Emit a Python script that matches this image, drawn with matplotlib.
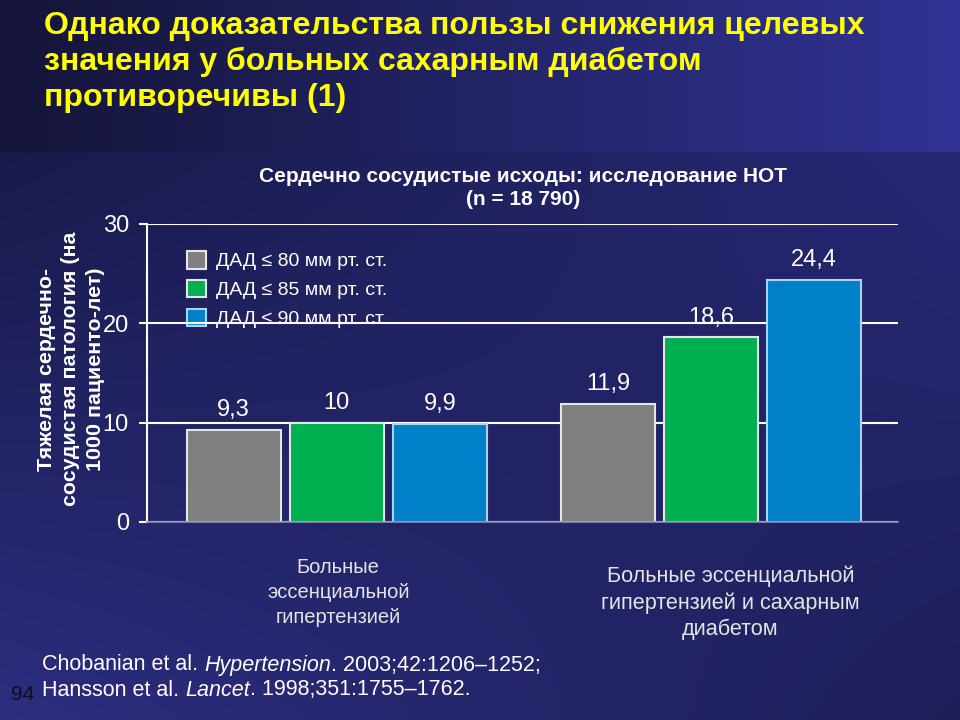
import numpy as np
import matplotlib
matplotlib.use("Agg")
import matplotlib.pyplot as plt
from matplotlib.patches import Patch

# data
groups = ["Больные\nэссенциальной\nгипертензией",
          "Больные эссенциальной\nгипертензией и сахарным\nдиабетом"]
series = ["ДАД ≤ 80 мм рт. ст.", "ДАД ≤ 85 мм рт. ст.", "ДАД ≤ 90 мм рт. ст."]
values_80 = [9.3, 11.9]
values_85 = [10, 18.6]
values_90 = [9.9, 24.4]
value_labels = [["9,3", "11,9"], ["10", "18,6"], ["9,9", "24,4"]]
yticks = [0, 10, 20, 30]

colors = ["#7f7f7f", "#00b050", "#0080c8"]
edges = ["#e6e6e6", "#e6e6e6", "#a8d4f2"]

plt.rcParams["font.family"] = ["Liberation Sans", "DejaVu Sans"]

W, H = 960, 720
fig = plt.figure(figsize=(W / 100, H / 100), dpi=100)


def px(x, y):
    return x / W, 1 - y / H


# background gradients
bg = fig.add_axes([0, 0, 1, 1], zorder=-10)
bg.set_axis_off()
img = np.zeros((H, W, 3))
xs = np.linspace(0, 1, W)
top_l = np.array([0.08, 0.08, 0.22])
top_r = np.array([0.19, 0.20, 0.58])
img[:152] = top_l + (top_r - top_l) * xs[None, :, None]
c_tl = np.array([0.10, 0.10, 0.29])
c_tr = np.array([0.15, 0.16, 0.46])
c_bl = np.array([0.17, 0.18, 0.50])
c_br = np.array([0.12, 0.12, 0.35])
yy = np.linspace(0, 1, H - 152)[:, None, None]
xx = xs[None, :, None]
img[152:] = (c_tl * (1 - xx) * (1 - yy) + c_tr * xx * (1 - yy)
             + c_bl * (1 - xx) * yy + c_br * xx * yy)
bg.imshow(img, aspect="auto", extent=[0, 1, 0, 1])

# title
fig.text(*px(44, 62), "Однако доказательства пользы снижения целевых\n"
         "значения у больных сахарным диабетом\nпротиворечивы (1)",
         color="#ffff00", fontsize=23, fontweight="bold",
         ha="left", va="center", linespacing=1.24)

fig.text(*px(523, 188), "Сердечно сосудистые исходы: исследование НОТ\n(n = 18 790)",
         color="white", fontsize=15, fontweight="bold",
         ha="center", va="center", linespacing=1.3)

ax = fig.add_axes([147 / W, 1 - 522 / H, (898 - 147) / W, (522 - 224) / H])
ax.set_facecolor("none")

x = np.array([0.0, 1.0])
step = 0.2754
width = 0.251
all_vals = [values_80, values_85, values_90]
handles = []
for i, vals in enumerate(all_vals):
    pos = x + (i - 1) * step
    ax.bar(pos, vals, width=width, color=colors[i], edgecolor=edges[i],
           linewidth=1.5, zorder=2)
    for p, v, lab in zip(pos, vals, value_labels[i]):
        ax.annotate(lab, (p, v), xytext=(0, 6), textcoords="offset points",
                    ha="center", va="bottom", color="white", fontsize=17, zorder=4)
    handles.append(Patch(facecolor=colors[i], edgecolor=edges[i], linewidth=1.5,
                         label=series[i]))

ax.set_xlim(-0.507, 1.50)
ax.set_ylim(0, 30)
ax.set_yticks(yticks)
ax.set_xticks([])
ax.yaxis.grid(True, color="white", linewidth=1.5)
ax.set_axisbelow(True)
for s in ["top", "right"]:
    ax.spines[s].set_visible(False)
ax.spines["left"].set_color("white")
ax.spines["left"].set_linewidth(1.5)
ax.spines["bottom"].set_color("#8a8ab0")
ax.spines["bottom"].set_linewidth(1.2)
ax.tick_params(axis="y", colors="white", labelsize=17, length=6, width=1.5, pad=7)

leg = ax.legend(handles=handles, loc="upper left", bbox_to_anchor=(0.053, 0.909),
                frameon=False, fontsize=14, handlelength=1.0, handleheight=1.0,
                handletextpad=0.5, labelspacing=0.48, borderpad=0, borderaxespad=0)
for t in leg.get_texts():
    t.set_color("white")
leg.set_zorder(0.3)

# group captions under the bars
ax.text(0.004, -0.238, groups[0], transform=ax.get_xaxis_transform(),
        ha="center", va="center", color="#e4e4e4", fontsize=14.5, linespacing=1.4)
ax.text(1.052, -0.272, groups[1], transform=ax.get_xaxis_transform(),
        ha="center", va="center", color="#e4e4e4", fontsize=15.6, linespacing=1.3)

fig.text(*px(71, 369), "Тяжелая сердечно-\nсосудистая патология (на\n1000 пациенто-лет)",
         rotation=90, ha="center", va="center", color="white", fontsize=15.4,
         fontweight="bold", linespacing=1.35, multialignment="center")


# references with italic journal names
def chain(x0, y0, pieces, size=15.5):
    renderer = fig.canvas.get_renderer()
    cur = x0
    for txt, style in pieces:
        t = fig.text(cur / W, 1 - y0 / H, txt, color="white", fontsize=size,
                     style=style, ha="left", va="center")
        cur += t.get_window_extent(renderer).width


chain(42, 665, [("Chobanian et al. ", "normal"), ("Hypertension", "italic"),
                (". 2003;42:1206–1252;", "normal")])
chain(42, 690, [("Hansson et al. ", "normal"), ("Lancet", "italic"),
                (". 1998;351:1755–1762.", "normal")])
fig.text(*px(11, 695), "94", color="#0c0c20", fontsize=15, ha="left", va="center")

fig.savefig("out.png", dpi=100)
